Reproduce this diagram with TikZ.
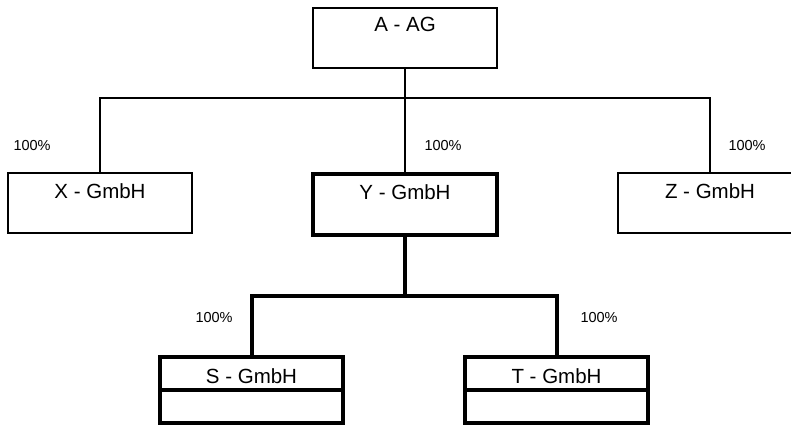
\documentclass[tikz,border=0pt]{standalone}
\usepackage{fontspec}
\setmainfont{Liberation Sans}
\begin{document}
\begin{tikzpicture}[x=1pt,y=-1pt,
  box/.style={draw, line width=2pt, minimum width=184pt, minimum height=60pt, anchor=north west, inner sep=0pt, outer sep=0pt},
  thickbox/.style={draw, line width=4pt, minimum width=184pt, minimum height=61pt, anchor=north west, inner sep=0pt, outer sep=0pt},
  sbox/.style={draw, line width=4pt, minimum width=183pt, minimum height=66pt, anchor=north west, inner sep=0pt, outer sep=0pt},
  lbl/.style={font=\fontsize{20.5}{22}\selectfont, anchor=base},
  pct/.style={font=\fontsize{14.5}{16}\selectfont, anchor=base west},
  thinline/.style={line width=1.7pt},
  thickline/.style={line width=4pt}]
\useasboundingbox (0,0) rectangle (791,425);
\clip (0,0) rectangle (791,425);
% boxes
\node[box] (A) at (313,8) {};
\node[box] (X) at (8,173) {};
\node[thickbox] (Y) at (313,174) {};
\node[box] (Z) at (618,173) {};
\node[sbox] (S) at (160,357) {};
\node[sbox] (T) at (465,357) {};
\draw[thickline] (S.west |- 0,390) -- (S.east |- 0,390);
\draw[thickline] (T.west |- 0,390) -- (T.east |- 0,390);
% texts
\node[lbl] (tA) at ([yshift=-24pt]A.north) {A - AG};
\node[lbl] (tX) at ([yshift=-25pt]X.north) {X - GmbH};
\node[lbl] (tY) at ([yshift=-25pt]Y.north) {Y - GmbH};
\node[lbl] (tZ) at ([yshift=-25pt]Z.north) {Z - GmbH};
\node[lbl] (tS) at ([yshift=-26pt]S.north) {S - GmbH};
\node[lbl] (tT) at ([yshift=-26pt]T.north) {T - GmbH};
% connectors
\coordinate (bar1) at (A.south |- 0,98);
\coordinate (bar2) at (Y.south |- 0,296);
\draw[thinline] (A.south) -- (bar1);
\draw[thinline] (X.north) |- (bar1) -| (Z.north);
\draw[thinline] (bar1) -- (Y.north);
\draw[thickline] (Y.south) -- (bar2);
\draw[thickline] (S.north) |- (bar2) -| (T.north);
% percentages
\node[pct] (p1) at (10,150) {100\%};
\node[pct] (p2) at (421,150) {100\%};
\node[pct] (p3) at (725,150) {100\%};
\node[pct] (p4) at (192,322) {100\%};
\node[pct] (p5) at (577,322) {100\%};
\end{tikzpicture}
\end{document}
